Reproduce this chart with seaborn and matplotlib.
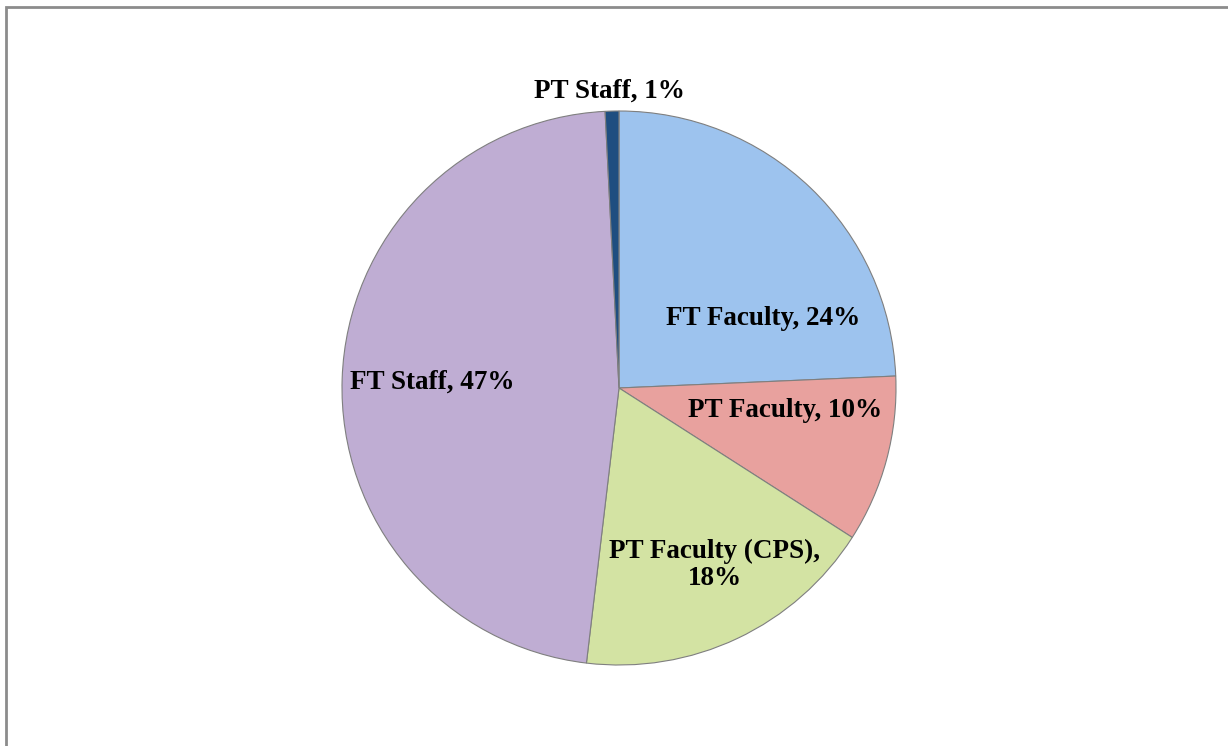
import matplotlib
matplotlib.use("Agg")
import matplotlib.pyplot as plt
import seaborn as sb
from matplotlib.patches import Rectangle

# данные с картинки (доли оценены по углам секторов)
categories = ["FT Faculty", "PT Faculty", "PT Faculty (CPS)", "FT Staff", "PT Staff"]
shares = [24.3, 9.75, 17.8, 47.3, 0.8]
label_texts = ["FT Faculty, 24%", "PT Faculty, 10%", "PT Faculty (CPS),\n18%", "FT Staff, 47%", "PT Staff, 1%"]
colors = ["#9DC3EE", "#E8A19E", "#D3E3A3", "#BFADD3", "#1F4E80"]
# куда ставить подписи (в координатах осей пирога)
label_pos = [(0.52, 0.25), (0.60, -0.08), (0.345, -0.64), (-0.675, 0.02), (-0.035, 1.07)]

sb.set_theme(style="white")
plt.rcParams['font.family'] = ['Liberation Serif', 'DejaVu Serif']

W, H = 1228, 746
fig = plt.figure(figsize=(W / 100, H / 100), dpi=100)
fig.patch.set_facecolor("white")

# рамка как в Excel
fig.patches.append(Rectangle((6 / W, -0.05), 1.2, 1 - 7 / H + 0.05, transform=fig.transFigure,
                             fill=False, edgecolor="#8c8c8c", linewidth=2))

cx, cy, r = 619, 388, 277
ax = fig.add_axes([(cx - r) / W, (H - cy - r) / H, 2 * r / W, 2 * r / H])
wedges, _ = ax.pie(shares, colors=colors, startangle=90, counterclock=False, radius=1,
                   wedgeprops=dict(edgecolor="#7f7f7f", linewidth=0.8))
ax.set_xlim(-1, 1)
ax.set_ylim(-1, 1)
ax.set_aspect("equal")
ax.axis("off")

for txt, (x, y) in zip(label_texts, label_pos):
    ax.text(x, y, txt, ha="center", va="center", fontsize=19.5, fontweight="bold",
            color="black", linespacing=1.1, clip_on=False)

fig.savefig("out.png", dpi=100)
